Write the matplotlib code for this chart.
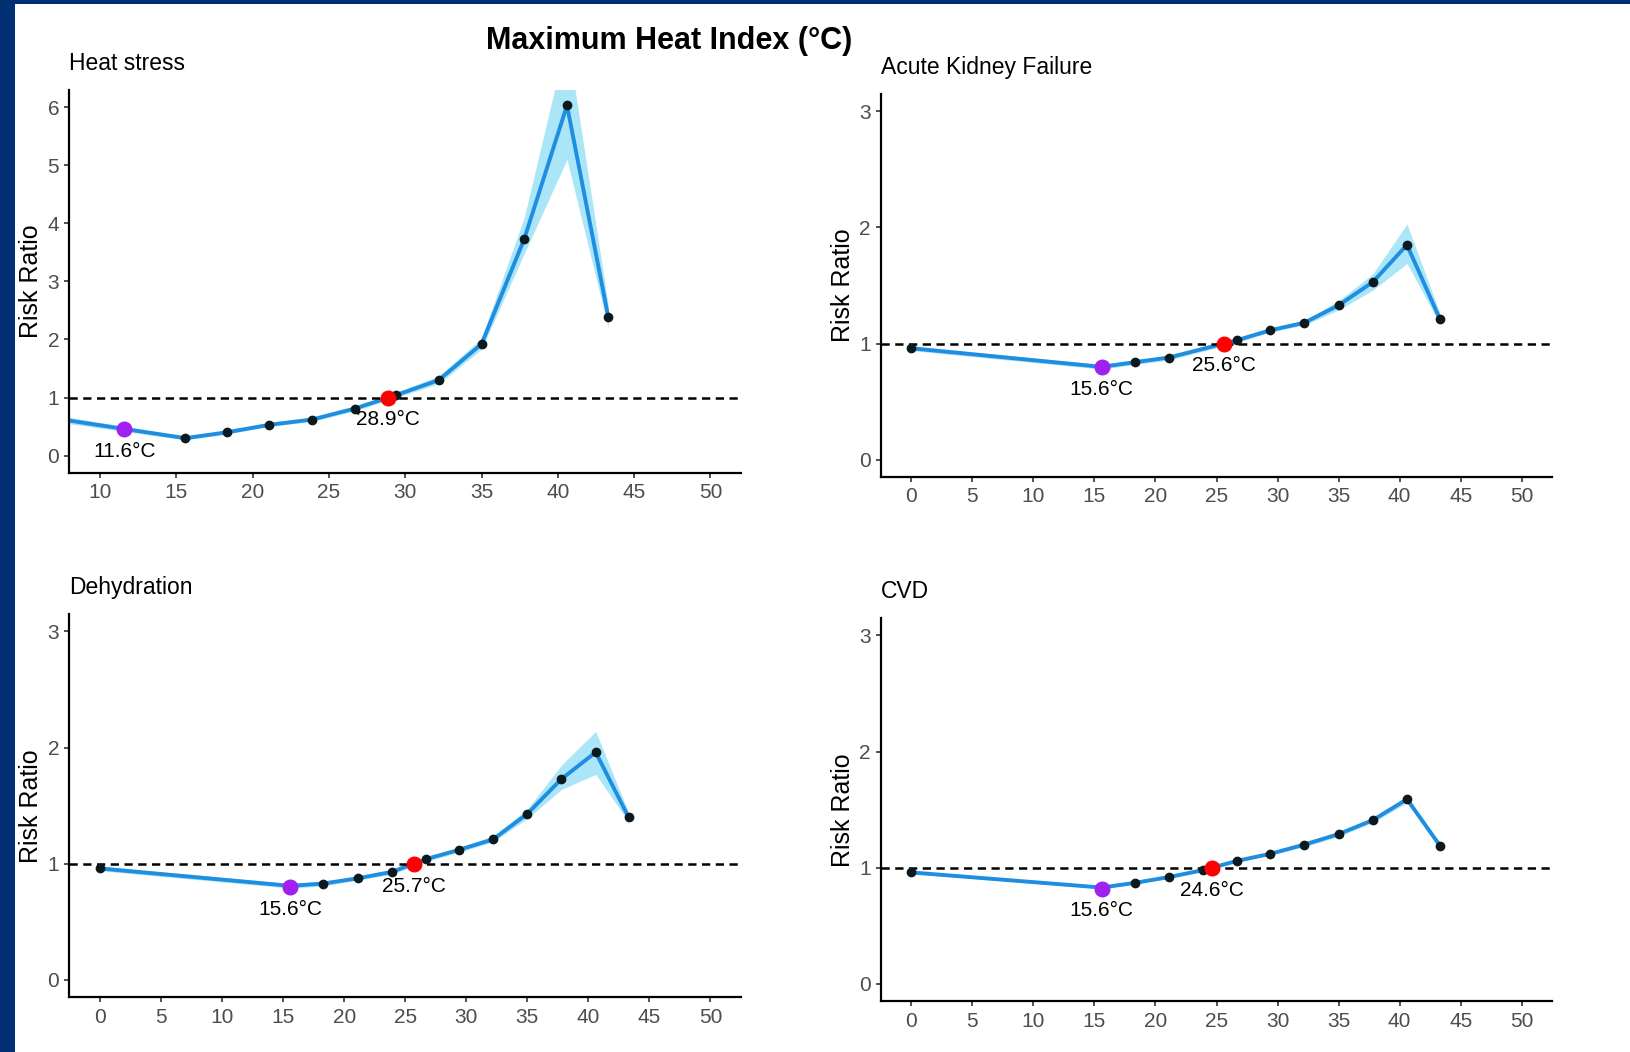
import matplotlib
matplotlib.use("Agg")
from matplotlib import pyplot as plt
from matplotlib.patches import Rectangle

# Heat index bins (°C) and risk ratios
hs_x = [0, 15.6, 18.3, 21.1, 23.9, 26.7, 29.4, 32.2, 35.0, 37.8, 40.6, 43.3]
hs_rr = [0.92, 0.30, 0.40, 0.53, 0.62, 0.81, 1.04, 1.30, 1.92, 3.73, 6.03, 2.39]
hs_lo = [0.84, 0.27, 0.37, 0.50, 0.59, 0.77, 1.00, 1.24, 1.83, 3.48, 5.10, 2.20]
hs_hi = [1.00, 0.33, 0.43, 0.56, 0.66, 0.85, 1.09, 1.37, 2.02, 4.10, 7.20, 2.60]

akf_x = [0, 15.6, 18.3, 21.1, 26.7, 29.4, 32.2, 35.0, 37.8, 40.6, 43.3]
akf_rr = [0.96, 0.80, 0.84, 0.88, 1.03, 1.115, 1.18, 1.33, 1.53, 1.85, 1.21]
akf_lo = [0.94, 0.78, 0.82, 0.86, 1.01, 1.10, 1.16, 1.29, 1.46, 1.69, 1.17]
akf_hi = [0.98, 0.82, 0.86, 0.90, 1.05, 1.13, 1.20, 1.37, 1.60, 2.03, 1.26]

dehy_x = [0, 15.6, 18.3, 21.1, 23.9, 26.7, 29.4, 32.2, 35.0, 37.8, 40.6, 43.3]
dehy_rr = [0.96, 0.81, 0.83, 0.875, 0.93, 1.04, 1.12, 1.21, 1.43, 1.73, 1.96, 1.40]
dehy_lo = [0.94, 0.79, 0.81, 0.86, 0.91, 1.02, 1.10, 1.19, 1.39, 1.64, 1.77, 1.36]
dehy_hi = [0.98, 0.83, 0.85, 0.89, 0.95, 1.06, 1.14, 1.24, 1.47, 1.85, 2.14, 1.44]

cvd_x = [0, 15.6, 18.3, 21.1, 23.9, 26.7, 29.4, 32.2, 35.0, 37.8, 40.6, 43.3]
cvd_rr = [0.96, 0.83, 0.87, 0.92, 0.98, 1.06, 1.12, 1.20, 1.29, 1.41, 1.59, 1.19]
cvd_lo = [0.95, 0.82, 0.86, 0.91, 0.97, 1.05, 1.11, 1.18, 1.27, 1.39, 1.56, 1.17]
cvd_hi = [0.97, 0.84, 0.88, 0.93, 0.99, 1.07, 1.13, 1.22, 1.31, 1.43, 1.62, 1.21]

# minimum-risk temperature (purple) and threshold where RR crosses 1 (red)
titles = ["Heat stress", "Acute Kidney Failure", "Dehydration", "CVD"]
min_temp = [11.6, 15.6, 15.6, 15.6]
min_rr = [0.46, 0.80, 0.80, 0.82]
ref_temp = [28.9, 25.6, 25.7, 24.6]

LINE = "#1f8ee0"
RIBBON = "#aae5f8"
NAVY = "#012f73"
TICK_FONT = ["Liberation Sans Narrow", "Liberation Sans", "DejaVu Sans"]

plt.rcParams["font.family"] = ["Liberation Sans", "DejaVu Sans"]


def draw_panel(ax, title, x, rr, lo, hi, mx, mrr, rx, xlim, xticks, ylim, yticks):
    ax.fill_between(x, lo, hi, color=RIBBON, lw=0, zorder=1)
    ax.axhline(1, color="black", lw=1.8, ls=(0, (3.3, 2.2)), zorder=3)
    ax.plot(x, rr, color=LINE, lw=2.8, zorder=2)
    ax.plot(x, rr, "o", color="#0c1a20", ms=6, zorder=4)
    ax.plot([mx], [mrr], "o", color="#a020f0", ms=10.5, zorder=5)
    ax.plot([rx], [1], "o", color="#ff0000", ms=10.5, zorder=5)

    for tx, ty in [(mx, mrr), (rx, 1)]:
        ax.annotate(f"{tx}°C", xy=(tx, ty), xytext=(0, -16), textcoords="offset points",
                    ha="center", va="center", fontsize=15, color="black", zorder=6)

    ax.annotate(title, xy=(0, 1), xycoords="axes fraction", xytext=(0, 19),
                textcoords="offset points", ha="left", va="center", fontsize=16.5)

    ax.set_xlim(*xlim)
    ax.set_ylim(*ylim)
    ax.set_xticks(xticks)
    ax.set_yticks(yticks)
    ax.set_ylabel("Risk Ratio", fontsize=18)
    ax.yaxis.set_label_coords(-0.0566, 0.5)
    ax.yaxis.label.set_va("center")

    for side in ["top", "right"]:
        ax.spines[side].set_visible(False)
    for side in ["left", "bottom"]:
        ax.spines[side].set_linewidth(1.6)
    ax.tick_params(length=3.8, width=1.2, color="#333333", labelcolor="#4d4d4d",
                   labelsize=15, pad=3.5, labelfontfamily=TICK_FONT)


if __name__ == "__main__":
    fig = plt.figure(figsize=(16.31, 10.52), dpi=100, facecolor="white")

    # dark frame on the top and left edges of the slide
    fig.add_artist(Rectangle((0, 0), 15 / 1631, 1, transform=fig.transFigure,
                             color=NAVY, lw=0, zorder=0))
    fig.add_artist(Rectangle((0, 1 - 4 / 1052), 1, 4 / 1052, transform=fig.transFigure,
                             color=NAVY, lw=0, zorder=0))

    boxes = [
        [0.04255, 0.55038, 0.41177, 0.36436],
        [0.53998, 0.54639, 0.41177, 0.36436],
        [0.04255, 0.05190, 0.41177, 0.36445],
        [0.53998, 0.04810, 0.41177, 0.36445],
    ]
    series = [
        (hs_x, hs_rr, hs_lo, hs_hi),
        (akf_x, akf_rr, akf_lo, akf_hi),
        (dehy_x, dehy_rr, dehy_lo, dehy_hi),
        (cvd_x, cvd_rr, cvd_lo, cvd_hi),
    ]

    for i in range(4):
        ax = fig.add_axes(boxes[i])
        x, rr, lo, hi = series[i]
        if i == 0:
            xlim, xticks = (8, 52), range(10, 51, 5)
            ylim, yticks = (-0.3, 6.3), range(0, 7)
        else:
            xlim, xticks = (-2.5, 52.5), range(0, 51, 5)
            ylim, yticks = (-0.15, 3.15), range(0, 4)
        draw_panel(ax, titles[i], x, rr, lo, hi, min_temp[i], min_rr[i], ref_temp[i],
                   xlim, xticks, ylim, yticks)

    fig.text(0.41, 0.9612, "Maximum Heat Index (°C)", ha="center", va="center",
             fontsize=22, fontweight="bold")

    fig.savefig("out.png", dpi=100, facecolor="white")
